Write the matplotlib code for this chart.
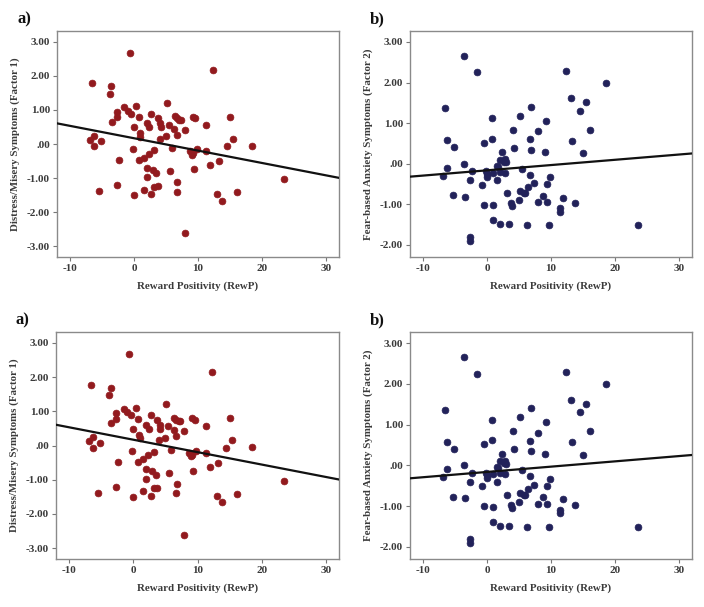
import matplotlib
matplotlib.use("Agg")
import matplotlib.pyplot as plt
import numpy as np

# ---- data: panel a (Distress/Misery, Factor 1) ----
rewp_a = [-0.6, 12.3, -6.6, -3.5, -3.7, 5.1, -1.5, 0.4, -2.7, -0.9, -0.4, 2.7, 0.8, 3.7,
          6.4, 6.7, 7.1, 7.3, 9.2, 9.6, 15.0, -2.7, -3.4, 2.0, 2.4, 4.1, 4.2, 5.4, 6.3, 6.7,
          7.9, 11.3, 0.0, 0.9, 1.0, 5.0, 4.0, -6.9, -6.2, -6.3, -5.1, 15.4, 14.5, 18.5, -0.2,
          5.9, 3.2, 8.7, 9.2, 9.0, 9.8, 11.3, 2.3, 1.5, 0.8, -2.3, 2.0, 3.0, 3.5, 5.6, 9.3,
          11.9, 13.2, 2.0, 6.8, -2.7, 3.2, 3.7, 23.4, -5.4, 1.6, 6.7, 0.0, 2.7, 13.0, 13.8,
          16.1, 7.9]
fac1 = [2.68, 2.16, 1.78, 1.69, 1.47, 1.20, 1.08, 1.11, 0.95, 0.98, 0.88, 0.88, 0.78, 0.76,
        0.81, 0.75, 0.71, 0.71, 0.80, 0.76, 0.79, 0.78, 0.66, 0.61, 0.49, 0.61, 0.49, 0.56,
        0.44, 0.27, 0.42, 0.57, 0.49, 0.31, 0.22, 0.23, 0.15, 0.12, 0.24, -0.06, 0.08, 0.15,
        -0.06, -0.05, -0.15, -0.12, -0.18, -0.22, -0.27, -0.31, -0.15, -0.21, -0.29, -0.40,
        -0.47, -0.48, -0.70, -0.75, -0.86, -0.79, -0.74, -0.62, -0.51, -0.98, -1.12, -1.21,
        -1.25, -1.23, -1.04, -1.38, -1.34, -1.40, -1.51, -1.48, -1.48, -1.66, -1.42, -2.61]

# ---- data: panel b (Fear-based Anxiety, Factor 2) ----
rewp_b = [-3.6, -1.5, 12.3, 18.6, -6.6, 6.9, 13.1, 15.5, 14.5, 0.8, 5.1, 9.2, 4.1, 7.9, 16.1,
          -6.2, -5.1, -0.5, 0.8, 6.8, 13.3, 4.2, 6.9, 2.4, 9.1, 15.0, 2.1, 2.9, 3.0, 2.6, -3.5,
          -6.2, -6.8, -2.3, -0.1, 0.0, 0.0, 0.9, 1.5, 1.8, 2.0, 2.8, 5.5, -2.7, 1.5, -0.7, 6.8,
          9.9, 7.4, 9.4, 6.4, 3.2, 5.1, 5.8, 5.9, 5.0, 8.7, -5.3, -3.4, -0.4, 0.9, 3.7, 3.9,
          7.9, 9.3, 11.9, 13.8, 11.4, 11.4, 0.9, 2.0, 3.5, 6.3, 9.7, 23.5, -2.7, -2.6]
fac2 = [2.65, 2.25, 2.28, 1.99, 1.36, 1.40, 1.61, 1.51, 1.31, 1.12, 1.18, 1.05, 0.84, 0.80,
        0.84, 0.58, 0.41, 0.52, 0.62, 0.60, 0.57, 0.39, 0.34, 0.28, 0.28, 0.26, 0.10, 0.11,
        0.03, 0.05, 0.00, -0.10, -0.30, -0.18, -0.18, -0.25, -0.32, -0.22, -0.05, -0.07,
        -0.20, -0.22, -0.12, -0.40, -0.40, -0.52, -0.27, -0.33, -0.48, -0.51, -0.58, -0.72,
        -0.67, -0.73, -0.73, -0.89, -0.79, -0.78, -0.81, -1.01, -1.02, -0.98, -1.04, -0.95,
        -0.94, -0.84, -0.98, -1.10, -1.18, -1.39, -1.49, -1.49, -1.51, -1.52, -1.52, -1.81,
        -1.91]

# fit lines (intercept, slope) as drawn in the figure
line_a = (0.17, -0.0364)
line_b = (-0.164, 0.013)

x_ticks = [-10, 0, 10, 20, 30]
y_ticks_a = [3, 2, 1, 0, -1, -2, -3]
y_ticks_b = [3, 2, 1, 0, -1, -2]

def fmt(v):
    if v == 0:
        return ".00"
    return f"{v:.2f}"

plt.rcParams['font.family'] = ['Liberation Serif', 'DejaVu Serif']

W, H = 704, 607
fig = plt.figure(figsize=(W / 100, H / 100), dpi=100)

def add_ax(l, r, t, b):
    return fig.add_axes([l / W, 1 - b / H, (r - l) / W, (b - t) / H])

panels = [
    ("a)", (57, 339, 31, 257), rewp_a, fac1, line_a, "#921a1e", (-3.32, 3.32), y_ticks_a,
     "Distress/Misery Symptoms (Factor 1)"),
    ("b)", (410, 692, 31, 257), rewp_b, fac2, line_b, "#22225a", (-2.3, 3.27), y_ticks_b,
     "Fear-based Anxiety Symptoms (Factor 2)"),
    ("a)", (56, 339, 332, 559), rewp_a, fac1, line_a, "#921a1e", (-3.32, 3.32), y_ticks_a,
     "Distress/Misery Symptoms (Factor 1)"),
    ("b)", (410, 692, 332, 559), rewp_b, fac2, line_b, "#22225a", (-2.3, 3.27), y_ticks_b,
     "Fear-based Anxiety Symptoms (Factor 2)"),
]

tc = "#3a3a3a"
for letter, (l, r, t, b), xs, ys, (b0, b1), col, ylim, yt, ylab in panels:
    ax = add_ax(l, r, t, b)
    xlim = (-12, 32)
    ax.scatter(xs, ys, s=24, color=col, edgecolors=col, linewidths=0.5, zorder=3)
    xx = np.array(xlim, dtype=float)
    ax.plot(xx, b0 + b1 * xx, color="#111111", lw=1.6, zorder=4)
    ax.set_xlim(*xlim)
    ax.set_ylim(*ylim)
    ax.set_xticks(x_ticks)
    ax.set_xticklabels([str(v) for v in x_ticks], fontsize=8, fontweight="bold", color=tc)
    ax.set_yticks(yt)
    ax.set_yticklabels([fmt(v) for v in yt], fontsize=8, fontweight="bold", color=tc)
    ax.tick_params(direction="out", length=3, width=0.8, color="#777777", pad=2)
    for sp in ax.spines.values():
        sp.set_color("#8a8a8a")
        sp.set_linewidth(1.0)
    ax.set_xlabel("Reward Positivity (RewP)", fontsize=7.8, fontweight="bold", color=tc, labelpad=6)
    ax.set_ylabel(ylab, fontsize=7.8, fontweight="bold", color=tc, labelpad=5)
    fig.text((l - 40) / W, 1 - (t - 12) / H, letter, fontsize=12, fontweight="bold",
             color="#111111", ha="left", va="center")

fig.savefig("out.png", dpi=100)
